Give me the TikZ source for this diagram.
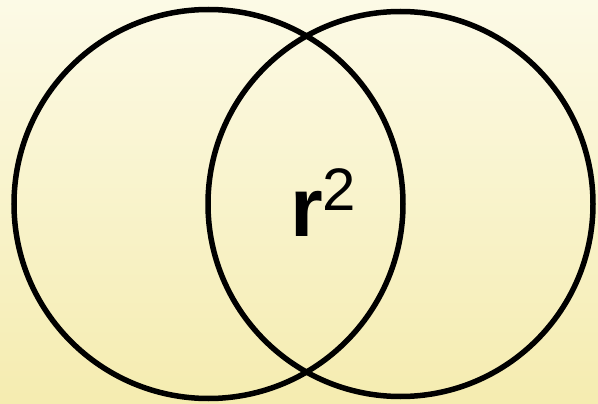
\documentclass[tikz,border=0pt]{standalone}
\usepackage{fontspec}
\setmainfont{Liberation Sans}
\definecolor{bgtop}{RGB}{252,250,230}
\definecolor{bgbottom}{RGB}{245,236,176}
\begin{document}
\begin{tikzpicture}[x=1pt,y=-1pt,every node/.style={inner sep=0pt}]
    \shade[top color=bgtop,bottom color=bgbottom] (0,0) rectangle (598,404);
    \useasboundingbox (0,0) rectangle (598,404);
    \draw[line width=5.5pt] (208.5,204) circle[radius=194.5];
    \draw[line width=5.5pt] (400.5,204) circle[radius=192.5];
    \node[anchor=base west] (rsq) at (290,236)
        {\fontsize{84}{84}\selectfont\bfseries r\fontsize{60}{60}\selectfont\mdseries\raisebox{26pt}{2}};
\end{tikzpicture}
\end{document}
